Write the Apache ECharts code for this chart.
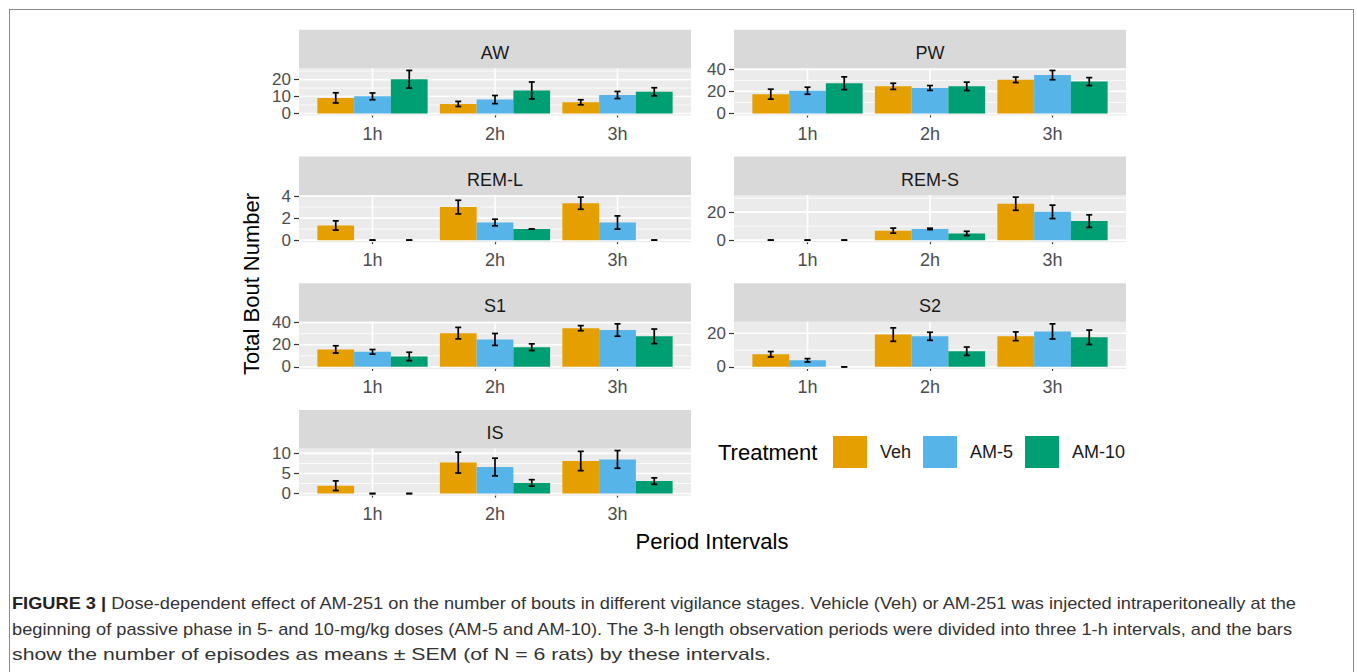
<!DOCTYPE html>
<html><head><meta charset="utf-8">
<script src="https://cdn.jsdelivr.net/npm/echarts@6.0.0/dist/echarts.min.js"></script>
<style>
html,body{margin:0;padding:0;background:#fff;width:1357px;height:672px;overflow:hidden;}
#frame{position:absolute;left:9px;top:9px;width:1345px;height:720px;border:1.5px solid #8a8a8a;box-sizing:border-box;}
#chart{position:absolute;left:0;top:0;width:1357px;height:585px;}
#caption{position:absolute;left:12px;top:0;font-family:"Liberation Sans Narrow","Liberation Sans",Arial,sans-serif;font-size:17px;color:#333;}
.cl{position:absolute;left:0;white-space:nowrap;transform-origin:0 0;line-height:20px;height:20px;}
.cl b{color:#222;}
</style></head>
<body>
<div id="frame"></div>
<div id="chart"></div>
<div id="caption">
<div class="cl" data-w="1284" style="top:594px"><b>FIGURE 3 |</b> Dose-dependent effect of AM-251 on the number of bouts in different vigilance stages. Vehicle (Veh) or AM-251 was injected intraperitoneally at the</div>
<div class="cl" data-w="1280" style="top:620px">beginning of passive phase in 5- and 10-mg/kg doses (AM-5 and AM-10). The 3-h length observation periods were divided into three 1-h intervals, and the bars</div>
<div class="cl" data-w="759" style="top:645px">show the number of episodes as means ± SEM (of N = 6 rats) by these intervals.</div>
</div>
<script>
// ---------- data ----------
const categories = ['1h', '2h', '3h'];
const treatments = ['Veh', 'AM-5', 'AM-10'];
const stages = ['AW', 'PW', 'REM-L', 'REM-S', 'S1', 'S2', 'IS'];

// rows: Veh, AM-5, AM-10 ; columns: 1h, 2h, 3h
const meanAW   = [[9.2, 5.6, 6.6], [10.1, 8.2, 10.9], [20.2, 13.6, 12.8]];
const semAW    = [[3.0, 1.5, 1.5], [2.0, 2.4, 2.1], [5.2, 5.0, 2.4]];
const meanPW   = [[17.5, 24.6, 30.5], [20.6, 23.1, 34.8], [27.4, 24.6, 28.9]];
const semPW    = [[4.5, 2.8, 2.5], [3.2, 2.2, 4.2], [5.8, 3.8, 3.6]];
const meanREML = [[1.33, 3.0, 3.35], [0, 1.6, 1.6], [0, 1.0, 0]];
const semREML  = [[0.42, 0.62, 0.55], [0, 0.3, 0.6], [0, 0, 0]];
const meanREMS = [[0, 6.8, 26.0], [0, 8.0, 20.2], [0, 4.8, 13.6]];
const semREMS  = [[0, 1.8, 4.7], [0, 0.5, 4.8], [0, 1.5, 4.5]];
const meanS1   = [[15.8, 30.5, 35.0], [13.6, 24.8, 33.3], [9.4, 17.8, 27.6]];
const semS1    = [[3.3, 5.2, 2.3], [2.1, 5.4, 5.6], [3.8, 3.0, 6.6]];
const meanS2   = [[7.5, 19.2, 18.2], [3.9, 18.2, 21.1], [0, 9.3, 17.6]];
const semS2    = [[1.6, 4.0, 2.6], [1.0, 2.4, 4.5], [0, 2.5, 4.3]];
const meanIS   = [[1.95, 7.7, 8.1], [0, 6.6, 8.5], [0, 2.65, 3.1]];
const semIS    = [[1.2, 2.6, 2.4], [0, 2.2, 2.2], [0, 0.8, 0.8]];

const ticksAW = [0, 10, 20];
const ticksPW = [0, 20, 40];
const ticksREML = [0, 2, 4];
const ticksREMS = [0, 20];
const ticksS1 = [0, 20, 40];
const ticksS2 = [0, 20];
const ticksIS = [0, 5, 10];

const xTitle = 'Period Intervals';
const yTitle = 'Total Bout Number';
const legendTitle = 'Treatment';

// ---------- styling / layout ----------
const FONT = '"Liberation Sans", Arial, sans-serif';
const colors = ['#E69F00', '#56B4E9', '#009E73'];
const colX = [299, 734];
const panelW = 392;
const plotTop0 = 68.3, rowStep = 126.7, plotH = 47.3, stripH = 38.5;

const panels = [
  { name: stages[0], mean: meanAW, sem: semAW, ticks: ticksAW },
  { name: stages[1], mean: meanPW, sem: semPW, ticks: ticksPW },
  { name: stages[2], mean: meanREML, sem: semREML, ticks: ticksREML },
  { name: stages[3], mean: meanREMS, sem: semREMS, ticks: ticksREMS },
  { name: stages[4], mean: meanS1, sem: semS1, ticks: ticksS1 },
  { name: stages[5], mean: meanS2, sem: semS2, ticks: ticksS2 },
  { name: stages[6], mean: meanIS, sem: semIS, ticks: ticksIS }
];

const grids = [], xAxes = [], yAxes = [], series = [], graphics = [];

function yAxisDef(i, ymin, ymax, vals) {
  return { gridIndex: i, type: 'value', min: ymin, max: ymax, position: 'left', offset: 0,
    axisLine: { show: false }, splitLine: { show: false },
    axisTick: { show: true, customValues: vals, length: 5, lineStyle: { color: '#333', width: 1.2 } },
    axisLabel: { customValues: vals, hideOverlap: false, showMinLabel: true, showMaxLabel: true,
      formatter: v => String(v), fontSize: 17, lineHeight: 15, color: '#4D4D4D', fontFamily: FONT, margin: 8 } };
}

panels.forEach((p, i) => {
  const col = i % 2, row = Math.floor(i / 2);
  const left = colX[col], top = plotTop0 + row * rowStep;
  let R = 0;
  p.mean.forEach((arr, t) => arr.forEach((m, c) => { R = Math.max(R, m + p.sem[t][c]); }));
  const ymin = -0.05 * R, ymax = 1.05 * R;

  grids.push({ left: left, top: top, width: panelW, height: plotH, show: true,
    backgroundColor: '#EBEBEB', borderWidth: 0, containLabel: false });

  xAxes.push({ gridIndex: i, type: 'value', min: 0.4, max: 3.6,
    axisLine: { show: false }, splitLine: { show: false },
    axisTick: { show: true, customValues: [1, 2, 3], length: 4, lineStyle: { color: '#333', width: 1.2 } },
    axisLabel: { customValues: [1, 2, 3], formatter: v => categories[Math.round(v) - 1] || '',
      hideOverlap: false, showMinLabel: true, showMaxLabel: true,
      fontSize: 18, color: '#4D4D4D', fontFamily: FONT, margin: 9 } });

  // two stacked axes so that closely spaced labels are not dropped as overlapping
  const yIdx = yAxes.length;
  yAxes.push(yAxisDef(i, ymin, ymax, p.ticks.filter((v, k) => k % 2 === 0)));
  const odd = p.ticks.filter((v, k) => k % 2 === 1);
  if (odd.length) yAxes.push(yAxisDef(i, ymin, ymax, odd));

  // grid lines (white major / minor)
  const step = p.ticks[1] - p.ticks[0];
  const gl = [];
  p.ticks.forEach(v => gl.push([0, v, 1]));
  for (let k = 0; k <= p.ticks.length; k++) {
    const v = p.ticks[0] + (k - 0.5) * step;
    if (v > ymin && v < ymax) gl.push([0, v, 0]);
  }
  [1, 2, 3].forEach(x => gl.push([1, x, 1]));
  series.push({ type: 'custom', name: 'grid-' + p.name, xAxisIndex: i, yAxisIndex: yIdx, silent: true, z: 1,
    data: gl,
    renderItem: (params, api) => {
      const cs = params.coordSys;
      const orient = api.value(0), v = api.value(1), major = api.value(2);
      const lw = major ? 1.6 : 0.8;
      if (orient === 0) {
        const y = api.coord([2, v])[1];
        return { type: 'line', shape: { x1: cs.x, y1: y, x2: cs.x + cs.width, y2: y },
          style: { stroke: '#FFFFFF', lineWidth: lw } };
      }
      const x = api.coord([v, 0])[0];
      return { type: 'line', shape: { x1: x, y1: cs.y, x2: x, y2: cs.y + cs.height },
        style: { stroke: '#FFFFFF', lineWidth: lw } };
    } });

  // bars
  treatments.forEach((tn, t) => {
    series.push({ type: 'custom', name: tn, xAxisIndex: i, yAxisIndex: yIdx, z: 2,
      itemStyle: { color: colors[t] },
      data: categories.map((c, ci) => [ci + 1, p.mean[t][ci]]),
      renderItem: (params, api) => {
        const xc = api.value(0) + (t - 1) * 0.3;
        const a = api.coord([xc - 0.15, api.value(1)]);
        const b = api.coord([xc + 0.15, 0]);
        return { type: 'rect', shape: { x: a[0], y: a[1], width: b[0] - a[0], height: b[1] - a[1] },
          style: { fill: api.visual('color') } };
      } });
  });

  // error bars
  const ed = [];
  treatments.forEach((tn, t) => categories.forEach((c, ci) => ed.push([ci + 1, p.mean[t][ci], p.sem[t][ci], t])));
  series.push({ type: 'custom', name: 'err-' + p.name, xAxisIndex: i, yAxisIndex: yIdx, z: 3, silent: true,
    data: ed,
    renderItem: (params, api) => {
      const xc = api.value(0) + (api.value(3) - 1) * 0.3;
      const m = api.value(1), s = api.value(2);
      const hi = api.coord([xc, m + s]), lo = api.coord([xc, m - s]);
      const hw = 3;
      const st = { stroke: '#000', lineWidth: 1.7 };
      return { type: 'group', children: [
        { type: 'line', shape: { x1: hi[0], y1: hi[1], x2: lo[0], y2: lo[1] }, style: st },
        { type: 'line', shape: { x1: hi[0] - hw, y1: hi[1], x2: hi[0] + hw, y2: hi[1] }, style: st },
        { type: 'line', shape: { x1: lo[0] - hw, y1: lo[1], x2: lo[0] + hw, y2: lo[1] }, style: st }
      ] };
    } });

  // strip
  graphics.push({ type: 'rect', silent: true, shape: { x: left, y: top - stripH, width: panelW, height: stripH },
    style: { fill: '#D9D9D9' } });
  graphics.push({ type: 'text', silent: true, x: left + panelW / 2, y: top - 15.5,
    style: { text: p.name, fontSize: 18, fontFamily: FONT, fill: '#1A1A1A', align: 'center', verticalAlign: 'middle' } });
});

graphics.push({ type: 'text', silent: true, x: 251, y: 284, rotation: Math.PI / 2,
  style: { text: yTitle, fontSize: 22, fontFamily: FONT, fill: '#000', align: 'center', verticalAlign: 'middle' } });
graphics.push({ type: 'text', silent: true, x: 712, y: 541,
  style: { text: xTitle, fontSize: 22, fontFamily: FONT, fill: '#000', align: 'center', verticalAlign: 'middle' } });
graphics.push({ type: 'text', silent: true, x: 718, y: 452,
  style: { text: legendTitle, fontSize: 22, fontFamily: FONT, fill: '#000', align: 'left', verticalAlign: 'middle' } });

const chart = echarts.init(document.getElementById('chart'), null, { renderer: 'svg' });
chart.setOption({
  animation: false,
  grid: grids,
  xAxis: xAxes,
  yAxis: yAxes,
  series: series,
  graphic: graphics,
  legend: { data: treatments.map(n => ({ name: n, icon: 'rect' })), left: 833, top: 436, padding: 0,
    itemWidth: 34, itemHeight: 32, itemGap: 12, selectedMode: false,
    textStyle: { fontSize: 18, color: '#1A1A1A', fontFamily: FONT, padding: [0, 0, 0, 8] } }
});

// fit caption lines to their measured widths
document.querySelectorAll('.cl').forEach(el => {
  const w = el.getBoundingClientRect().width;
  const target = +el.getAttribute('data-w');
  el.style.transform = 'scaleX(' + (target / w) + ')';
});
</script>
</body></html>
